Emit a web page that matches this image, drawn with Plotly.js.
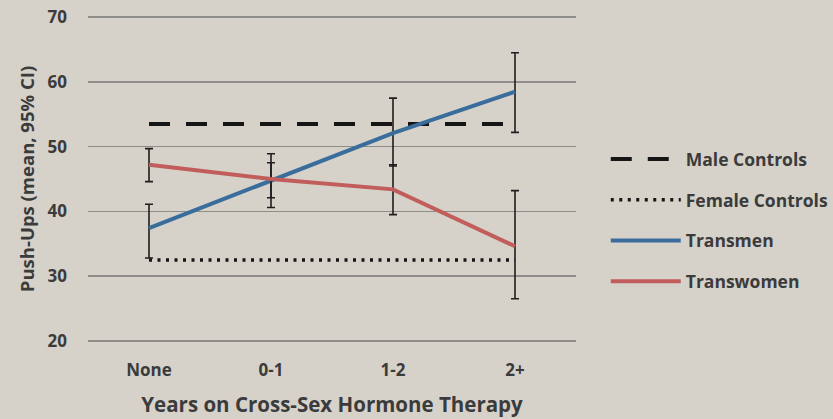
<!DOCTYPE html>
<html><head><meta charset="utf-8">
<script src="https://cdn.plot.ly/plotly-3.0.1.min.js"></script>
<style>html,body{margin:0;padding:0;background:#d6d2ca;}#c{width:833px;height:419px;}</style>
</head><body><div id="c"></div>
<script>
var categories = ["None", "0-1", "1-2", "2+"];
var maleControls = [53.5, 53.5, 53.5, 53.5];
var femaleControls = [32.5, 32.5, 32.5, 32.5];
var transmen = [37.4, 44.7, 52.1, 58.5];
var transmenHi = [41.1, 48.9, 57.5, 64.5];
var transmenLo = [32.8, 40.6, 47.0, 52.2];
var transwomen = [47.2, 45.0, 43.4, 34.6];
var transwomenHi = [49.7, 47.5, 47.2, 43.2];
var transwomenLo = [44.6, 42.1, 39.5, 26.5];
var yTicks = [20, 30, 40, 50, 60, 70];

function diff(a, b) { return a.map(function (v, i) { return Math.abs(v - b[i]); }); }

var fnt = "'Open Sans', Lato, sans-serif";
var txt = '#3b3b3b';
var eb = function (hi, lo, mid) {
  return {type: 'data', symmetric: false, array: diff(hi, mid), arrayminus: diff(mid, lo),
          color: '#1e1e1e', thickness: 1.6, width: 4};
};

var traces = [
  {x: categories, y: maleControls, name: 'Male Controls', mode: 'lines', legendgroup: 'a',
   line: {color: '#151515', width: 4, dash: '21px,16px'}},
  {x: categories, y: femaleControls, name: 'Female Controls', mode: 'lines', legendgroup: 'b',
   line: {color: '#151515', width: 3.5, dash: '3px,5.5px'}},
  {x: categories, y: transmen, name: 'Transmen', mode: 'lines', legendgroup: 'c',
   line: {color: '#3b6d9c', width: 4}, error_y: eb(transmenHi, transmenLo, transmen)},
  {x: categories, y: transwomen, name: 'Transwomen', mode: 'lines', legendgroup: 'd',
   line: {color: '#c15e5c', width: 4}, error_y: eb(transwomenHi, transwomenLo, transwomen)}
];

var layout = {
  width: 833, height: 419,
  paper_bgcolor: '#d6d2ca', plot_bgcolor: '#d6d2ca',
  margin: {l: 88, r: 257, t: 14, b: 75, autoexpand: false},
  font: {family: fnt, color: txt},
  xaxis: {
    type: 'category', range: [-0.5, 3.5], showgrid: false, zeroline: false, showline: false,
    tickfont: {size: 17, family: fnt, weight: 'bold', color: txt}, ticks: '', ticklabelstandoff: 14,
    title: {text: 'Years on Cross-Sex Hormone Therapy', standoff: 17,
            font: {size: 20.5, family: fnt, weight: 'bold', color: txt}}
  },
  yaxis: {
    range: [19.5, 70.5], tickvals: yTicks, showgrid: true, gridcolor: '#8e8d89', gridwidth: 1.5,
    zeroline: false, showline: false, ticks: '', ticklabelstandoff: 20,
    tickfont: {size: 17, family: fnt, weight: 'bold', color: txt},
    title: {text: 'Push-Ups (mean, 95% CI)', standoff: 8,
            font: {size: 18.5, family: fnt, weight: 'bold', color: txt}}
  },
  showlegend: true,
  legend: {x: 1.061, y: 0.615, xanchor: 'left', yanchor: 'top', bgcolor: 'rgba(0,0,0,0)',
           traceorder: 'grouped', tracegroupgap: 15, itemwidth: 70,
           font: {size: 17.5, family: fnt, weight: 'bold', color: txt}}
};

Plotly.newPlot('c', traces, layout, {displayModeBar: false, staticPlot: true});
</script></body></html>
